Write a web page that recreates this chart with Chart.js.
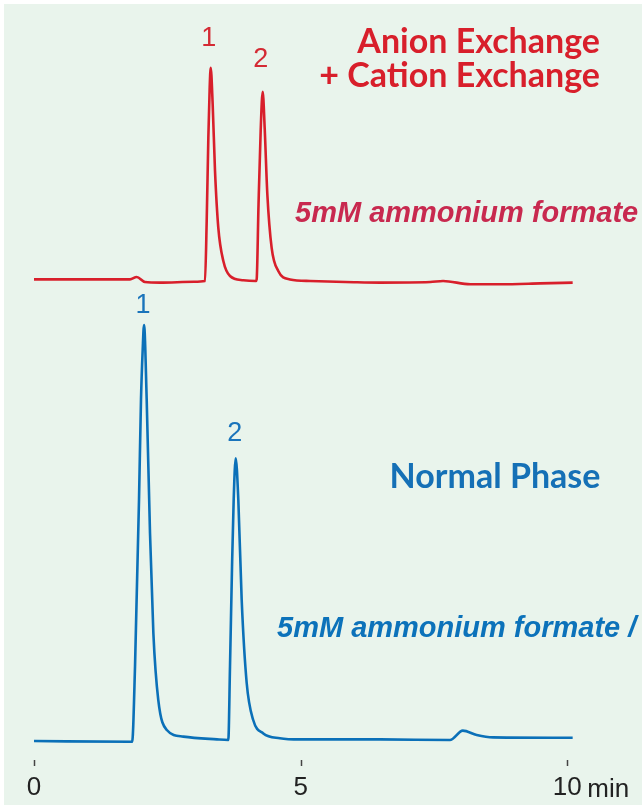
<!DOCTYPE html>
<html>
<head>
<meta charset="utf-8">
<script src="https://cdn.jsdelivr.net/npm/chart.js@4.4.1/dist/chart.umd.min.js"></script>
<style>
  html, body { margin: 0; padding: 0; background: #ffffff; }
  #wrap { position: absolute; left: 4px; top: 4px; width: 638px; height: 801px; background: #e9f4ec; }
  canvas { display: block; }
</style>
</head>
<body>
<div id="wrap"><canvas id="chrom" width="638" height="801"></canvas></div>
<script>
// time axis (min) and detector signal (arbitrary units)
const axisTicks = [0, 5, 10];

// Anion Exchange + Cation Exchange (upper, red trace)
const redTime = [0, 1.8, 1.926, 2.08, 2.36, 3.0, 3.206, 3.238, 3.269, 3.294, 3.313, 3.35, 3.394, 3.456, 3.55, 3.675, 3.925, 4.16,
  4.175, 4.21, 4.25, 4.288, 4.325, 4.375, 4.456, 4.58, 4.8, 5.175, 6.0, 6.49, 7.43, 7.67, 8.18, 8.74, 9.49, 10.1];
const redSignal = [0.4, 0.4, 1.0, -0.25, -0.4, -0.2, 0, 15, 35.8, 48.3, 53.3, 44.2, 27.5, 13.3, 5, 1.25, 0.2, 0,
  0.4, 19.2, 37.5, 47.3, 38.3, 21.7, 8.3, 2.5, 0.4, 0, -0.3, -0.4, -0.25, 0, -0.8, -0.8, -0.6, -0.4];
const redOffset = 115;

// Normal Phase (lower, blue trace)
const blueTime = [0, 1.84, 1.894, 1.969, 2.006, 2.038, 2.063, 2.113, 2.175, 2.238, 2.33, 2.49, 2.8, 3.43, 3.643,
  3.675, 3.713, 3.744, 3.782, 3.831, 3.894, 3.988, 4.11, 4.3, 4.61, 4.99, 6.49, 7.8, 8.04, 8.3, 8.61, 10.1];
const blueSignal = [0, -0.2, 18.6, 60.3, 85.3, 97.8, 104, 85.3, 52, 27, 10.3, 2.75, 1.1, 0.4, 0.25,
  18.6, 43.6, 60.3, 70.7, 60.3, 35.3, 14.5, 5.25, 1.9, 0.7, 0.4, 0.4, 0.25, 2.6, 1.5, 0.9, 0.8];

const redPeaks = [{ t: 3.313, s: 53.3, label: "1", dy: 22 }, { t: 4.288, s: 47.3, label: "2", dy: 25 }];
const bluePeaks = [{ t: 2.063, s: 104, label: "1", dy: 12 }, { t: 3.782, s: 70.7, label: "2", dy: 17 }];

const RED = "#d81f2b";
const BLUE = "#0b70b8";

function points(ts, ys, off) {
  return ts.map((t, i) => ({ x: t, y: ys[i] + off }));
}

const textPlugin = {
  id: "chromText",
  afterDraw(chart) {
    const c = chart.ctx;
    const xs = chart.scales.x, ys = chart.scales.y;
    c.save();

    // small tick marks under the traces
    c.strokeStyle = "#444";
    c.lineWidth = 1.5;
    axisTicks.forEach(v => {
      const px = Math.round(xs.getPixelForValue(v)) + 0.5;
      c.beginPath();
      c.moveTo(px, xs.top);
      c.lineTo(px, xs.top + 6);
      c.stroke();
    });

    // peak numbers
    c.textAlign = "center";
    c.textBaseline = "alphabetic";
    c.font = "27px 'Liberation Sans', Arial, sans-serif";
    c.fillStyle = "#d42a34";
    redPeaks.forEach(p => {
      c.fillText(p.label, xs.getPixelForValue(p.t) - 2, ys.getPixelForValue(p.s + redOffset) - p.dy);
    });
    c.fillStyle = "#1a74bb";
    bluePeaks.forEach(p => {
      c.fillText(p.label, xs.getPixelForValue(p.t) - 1, ys.getPixelForValue(p.s) - p.dy);
    });

    // method titles
    c.font = "bold 34px Lato, 'Open Sans', sans-serif";
    c.textAlign = "right";
    c.fillStyle = "#d81f2b";
    c.fillText("Anion Exchange", 596, 49);
    c.fillText("+ Cation Exchange", 596, 83);
    c.textAlign = "center";
    c.fillStyle = "#1570b6";
    c.fillText("Normal Phase", 491, 484);

    // mobile phase notes
    c.textAlign = "left";
    c.font = "italic bold 29px 'Liberation Sans', Arial, sans-serif";
    c.fillStyle = "#c8294f";
    c.fillText("5mM ammonium formate", 291, 218);
    c.fillStyle = "#0c72ba";
    c.fillText("5mM ammonium formate / ACN", 273, 633);

    // unit after the last tick
    c.font = "26px 'Liberation Sans', Arial, sans-serif";
    c.fillStyle = "#222";
    c.fillText("min", xs.getPixelForValue(10) + 20, 793);
    c.restore();
  }
};

new Chart(document.getElementById("chrom"), {
  type: "line",
  data: {
    datasets: [
      {
        label: "Anion Exchange + Cation Exchange",
        data: points(redTime, redSignal, redOffset),
        borderColor: RED,
        borderWidth: 2.6,
        pointRadius: 0,
        cubicInterpolationMode: "monotone",
        fill: false
      },
      {
        label: "Normal Phase",
        data: points(blueTime, blueSignal, 0),
        borderColor: BLUE,
        borderWidth: 2.6,
        pointRadius: 0,
        cubicInterpolationMode: "monotone",
        fill: false
      }
    ]
  },
  options: {
    responsive: false,
    animation: false,
    layout: { padding: { left: 30, right: 0, top: 0, bottom: 0 } },
    plugins: { legend: { display: false }, tooltip: { enabled: false } },
    scales: {
      x: {
        type: "linear",
        min: 0,
        max: 11.4,
        afterFit(scale) { scale.height = 45; },
        afterBuildTicks(scale) { scale.ticks = axisTicks.map(v => ({ value: v })); },
        border: { display: false },
        grid: { display: false },
        ticks: {
          padding: 4,
          maxRotation: 0,
          autoSkip: false,
          color: "#222",
          font: { family: "'Liberation Sans', Arial, sans-serif", size: 26 },
          callback: v => String(v)
        }
      },
      y: {
        display: false,
        min: -4.75,
        max: 184.25
      }
    }
  },
  plugins: [textPlugin]
});
</script>
</body>
</html>
